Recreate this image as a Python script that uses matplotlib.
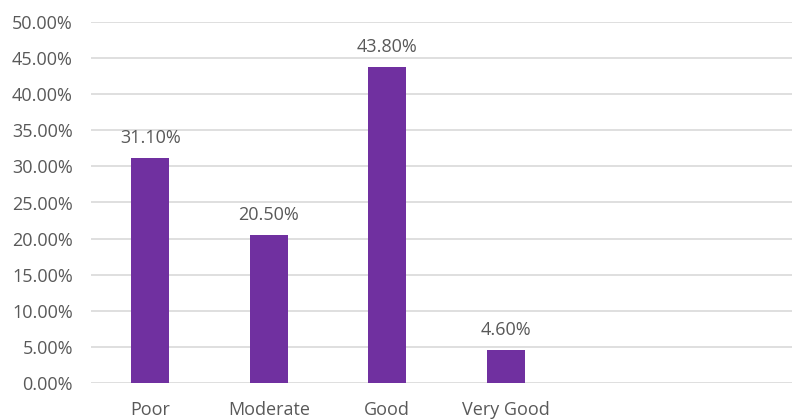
import matplotlib.pyplot as plt

plt.rcParams["font.family"] = ["Open Sans", "DejaVu Sans"]

# data
categories = ["Poor", "Moderate", "Good", "Very Good", "", ""]
values = [31.10, 20.50, 43.80, 4.60, None, None]

bar_color = "#7030A0"
text_color = "#595959"
grid_color = "#D9D9D9"

fig = plt.figure(figsize=(7.92, 4.19), dpi=100)
# axes runs slightly past the right edge, as in the cropped original
ax = fig.add_axes([91 / 792, 36 / 419, 711 / 792, 361 / 419])

xs = list(range(len(categories)))
heights = [v if v is not None else 0 for v in values]
bars = ax.bar(xs, heights, width=0.32, color=bar_color, zorder=3)

for x, v in zip(xs, values):
    if v is None:
        continue
    ax.annotate(f"{v:.2f}%", (x, v), xytext=(0, 8), textcoords="offset points",
                ha="center", va="bottom", fontsize=13, color=text_color)

ax.set_xlim(-0.5, len(categories) - 0.5)
ax.set_ylim(0, 50)
ax.set_yticks(range(0, 51, 5))
ax.set_yticklabels([f"{t:.2f}%" for t in range(0, 51, 5)])
ax.set_xticks(xs)
ax.set_xticklabels(categories)

ax.grid(axis="y", color=grid_color, lw=1.2, zorder=0)
for s in ax.spines.values():
    s.set_visible(False)
ax.tick_params(axis="y", length=0, pad=13, labelsize=13, labelcolor=text_color)
ax.tick_params(axis="x", length=0, pad=13, labelsize=13, labelcolor=text_color)

fig.savefig("out.png", dpi=100)
